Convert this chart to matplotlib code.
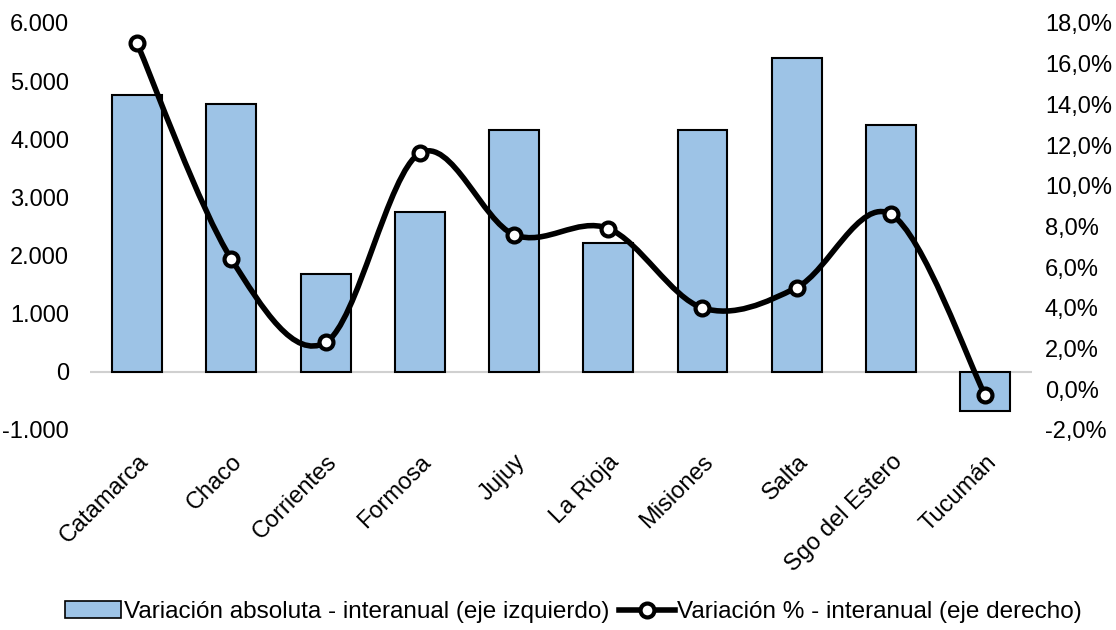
import numpy as np
import matplotlib
matplotlib.use('Agg')
import matplotlib.pyplot as plt
import matplotlib.transforms as mtransforms
from matplotlib.path import Path
from matplotlib.patches import PathPatch
from matplotlib.ticker import FuncFormatter
from matplotlib.lines import Line2D
from matplotlib.patches import Patch

plt.rcParams['font.family'] = ['Liberation Sans', 'DejaVu Sans']

provincias = ['Catamarca', 'Chaco', 'Corrientes', 'Formosa', 'Jujuy',
              'La Rioja', 'Misiones', 'Salta', 'Sgo del Estero', 'Tucumán']
var_abs = [4770, 4600, 1680, 2750, 4160, 2210, 4160, 5400, 4250, -680]
var_pct = [17.0, 6.4, 2.3, 11.6, 7.6, 7.9, 4.0, 5.0, 8.6, -0.3]

fig = plt.figure(figsize=(11.16, 6.3), dpi=100)
fig.subplots_adjust(left=0.0806, right=0.925, top=0.9635, bottom=0.3175)
ax = fig.add_subplot()
ax2 = ax.twinx()

x = np.arange(len(provincias))
ax.bar(x, var_abs, width=0.53, color='#9DC3E6', edgecolor='black',
       linewidth=1.5, zorder=3)
ax.axhline(0, color='#d0d0d0', lw=1.5, zorder=2)
ax.set_xlim(-0.5, len(provincias) - 0.5)
ax.set_ylim(-1000, 6000)
ax.set_yticks(range(-1000, 6001, 1000))
ax.yaxis.set_major_formatter(FuncFormatter(
    lambda v, p: f'{v:,.0f}'.replace(',', '.')))
ax.set_xticks(x)
ax.set_xticklabels(provincias, rotation=45, ha='right', va='top',
                   rotation_mode='anchor')
shift = mtransforms.ScaledTranslation(-5 / 100, 0, fig.dpi_scale_trans)
for lab in ax.get_xticklabels():
    lab.set_transform(lab.get_transform() + shift)

ax2.set_ylim(-2, 18)
ax2.set_yticks(range(-2, 19, 2))
ax2.yaxis.set_major_formatter(FuncFormatter(
    lambda v, p: f'{v:.1f}%'.replace('.', ',')))

for a in (ax, ax2):
    for s in a.spines.values():
        s.set_visible(False)
    a.tick_params(length=0, labelsize=17)
ax.tick_params(axis='y', pad=15)
ax.tick_params(axis='x', pad=15)
ax2.tick_params(axis='y', pad=9)

# smoothed line (Bezier through the points, like Excel)
pts = np.column_stack([x, var_pct]).astype(float)
verts = [pts[0]]
codes = [Path.MOVETO]
n = len(pts)
for i in range(n - 1):
    p0 = pts[max(i - 1, 0)]
    p1 = pts[i]
    p2 = pts[i + 1]
    p3 = pts[min(i + 2, n - 1)]
    verts += [p1 + (p2 - p0) / 6, p2 - (p3 - p1) / 6, p2]
    codes += [Path.CURVE4] * 3
ax2.add_patch(PathPatch(Path(verts, codes), facecolor='none',
                        edgecolor='black', lw=4, zorder=4))
ax2.plot(x, var_pct, 'o', ms=10, mfc='white', mec='black', mew=3, zorder=5)

handles = [Patch(facecolor='#9DC3E6', edgecolor='black', lw=1.2),
           Line2D([], [], color='black', lw=4, marker='o', ms=10,
                  mfc='white', mec='black', mew=3)]
labels = ['Variación absoluta - interanual (eje izquierdo)',
          'Variación % - interanual (eje derecho)']
fig.legend(handles, labels, loc='center', bbox_to_anchor=(0.514, 0.028),
           ncol=2, frameon=False, fontsize=17.5, handlelength=2.3,
           handletextpad=0.1, columnspacing=0.4)

fig.savefig('out.png', dpi=100)
